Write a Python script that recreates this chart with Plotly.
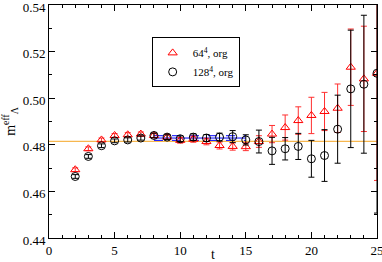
import plotly.graph_objects as go

t = list(range(2, 26))
m64 = [0.4693, 0.4783, 0.4821, 0.4840, 0.4843, 0.4846, 0.4840, 0.4833, 0.4819, 0.4824,
       0.4814, 0.4797, 0.4793, 0.4792, 0.4814, 0.4846, 0.4874, 0.4904, 0.4926, 0.4943,
       0.4957, 0.5133, 0.5083, 0.5107]
e64 = [0.0008, 0.0008, 0.0008, 0.0008, 0.0009, 0.0009, 0.0010, 0.0010, 0.0012, 0.0013,
       0.0014, 0.0015, 0.0016, 0.0017, 0.0025, 0.0037, 0.0054, 0.0059, 0.0078, 0.0082,
       0.0104, 0.0164, 0.0226, 0.0460]
m128 = [0.4664, 0.4750, 0.4796, 0.4817, 0.4821, 0.4829, 0.4840, 0.4833, 0.4826, 0.4833,
        0.4829, 0.4833, 0.4835, 0.4821, 0.4814, 0.4774, 0.4783, 0.4793, 0.4740, 0.4754,
        0.4867, 0.5040, 0.5060, 0.5107]
e128 = [0.0008, 0.0008, 0.0008, 0.0008, 0.0009, 0.0009, 0.0010, 0.0010, 0.0012, 0.0014,
        0.0015, 0.0017, 0.0026, 0.0022, 0.0049, 0.0058, 0.0048, 0.0056, 0.0079, 0.0111,
        0.0146, 0.0252, 0.0296, 0.0600]

orange_level = 0.4815
fit_t = [8, 15]
fit_val = 0.4829
fit_err = 0.0010

serif = "Liberation Serif"

fig = go.Figure()

fig.add_trace(go.Scatter(x=[0, 25], y=[orange_level, orange_level], mode="lines",
                         line=dict(color="#f5a623", width=1), showlegend=False, hoverinfo="skip"))
fig.add_trace(go.Scatter(x=fit_t, y=[fit_val, fit_val], mode="lines",
                         line=dict(color="#0000ff", width=1), showlegend=False))
for s in (1, -1):
    fig.add_trace(go.Scatter(x=fit_t, y=[fit_val + s * fit_err] * 2, mode="lines",
                             line=dict(color="#0000ff", width=1, dash="dash"), showlegend=False))

fig.add_trace(go.Scatter(
    x=t, y=m64, mode="markers", name="64<sup>4</sup>, org",
    marker=dict(symbol="triangle-up-open", size=8, color="#ff0000", line=dict(width=1)),
    error_y=dict(type="data", array=e64, visible=True, color="#ff3030", thickness=1, width=3),
))
fig.add_trace(go.Scatter(
    x=t, y=m128, mode="markers", name="128<sup>4</sup>, org",
    marker=dict(symbol="circle-open", size=8, color="#000000", line=dict(width=1)),
    error_y=dict(type="data", array=e128, visible=True, color="#000000", thickness=1, width=3),
))

axis_common = dict(
    showgrid=False, zeroline=False, showline=True, linecolor="#000000", linewidth=1,
    mirror="ticks", ticks="inside", ticklen=6, tickcolor="#000000",
    tickfont=dict(family=serif, size=13, color="#000000"),
    automargin=False, ticklabeloverflow="allow",
)

fig.update_xaxes(range=[0, 25], dtick=5, tick0=0,
                 minor=dict(dtick=1, ticks="inside", ticklen=3, tickcolor="#000000"),
                 title=dict(text="t", font=dict(family=serif, size=14, color="#000000"), standoff=0),
                 **axis_common)
fig.update_yaxes(range=[0.44, 0.54], dtick=0.02, tick0=0.44, tickformat=".2f",
                 minor=dict(dtick=0.01, ticks="inside", ticklen=3, tickcolor="#000000"),
                 title=dict(text="m<sup>eff</sup><sub>Λ</sub>", font=dict(family=serif, size=14, color="#000000"), standoff=4),
                 ticklabelshift=2,
                 **axis_common)

fig.update_layout(
    width=382, height=262,
    margin=dict(l=49, r=5, t=5, b=24),
    plot_bgcolor="#ffffff", paper_bgcolor="#ffffff",
    legend=dict(x=0.313, y=0.861, xanchor="left", yanchor="top",
                bordercolor="#000000", borderwidth=1, bgcolor="#ffffff",
                font=dict(family=serif, size=11, color="#000000"),
                tracegroupgap=0, itemwidth=30),
    font=dict(family=serif),
)

fig.write_html("out.html", config={"displayModeBar": False},
               post_script="document.body.style.margin='0px';")
